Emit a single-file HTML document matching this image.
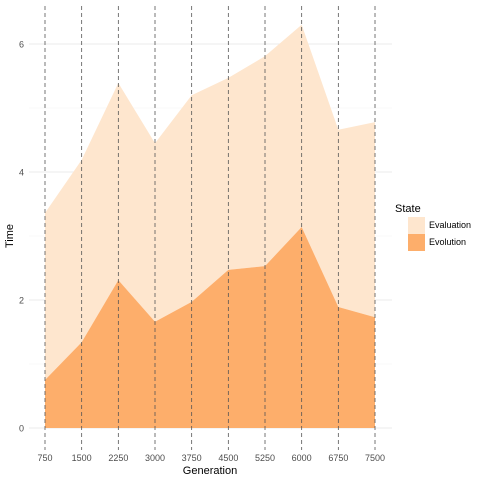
<!DOCTYPE html>
<html><head><meta charset="utf-8"><style>
html,body{margin:0;background:#fff;font-family:"Liberation Sans",sans-serif;overflow:hidden;width:480px;height:480px}
svg{display:block}
</style></head><body>
<svg id="chart" width="480" height="480" xmlns="http://www.w3.org/2000/svg"></svg>
<script>
const generations=[750,1500,2250,3000,3750,4500,5250,6000,6750,7500];
const evolution=[0.75,1.34,2.31,1.66,1.97,2.47,2.53,3.14,1.89,1.73];
const evaluation=[2.61,2.85,3.08,2.79,3.23,3.00,3.28,3.16,2.77,3.05];
const yTicks=[0,2,4,6];
const NS="http://www.w3.org/2000/svg";
const svgEl=document.getElementById('chart');
const xs=g=>45+(g-750)/750*36.667;
const ys=v=>428-v*64;
function add(tag,attrs){const e=document.createElementNS(NS,tag);for(const k in attrs)e.setAttribute(k,attrs[k]);svgEl.appendChild(e);return e;}
for(let v=1;v<=6;v+=2){const l=add('line',{x1:29,x2:392,y1:ys(v),y2:ys(v),stroke:'#f3f3f3','stroke-width':0.6});

}
yTicks.forEach(v=>{const l=add('line',{x1:29,x2:392,y1:ys(v),y2:ys(v),stroke:'#ebebeb','stroke-width':1.1});


const t=add('text',{x:24,y:ys(v)+3.5,'text-anchor':'end','font-size':9,fill:'#4d4d4d'});t.textContent=v;

});
const totals=evolution.map((v,i)=>v+evaluation[i]);
const topPts=generations.map((g,i)=>xs(g)+','+ys(totals[i])).join(' ');
const midPts=generations.map((g,i)=>xs(g)+','+ys(evolution[i]));
const evalArea=add('polygon',{points:topPts+' '+midPts.slice().reverse().join(' '),fill:'#fee6ce'});


const evoArea=add('polygon',{points:midPts.join(' ')+' '+xs(7500)+','+ys(0)+' '+xs(750)+','+ys(0),fill:'#fdae6b'});


generations.forEach(g=>{const l=add('line',{x1:xs(g),x2:xs(g),y1:6,y2:450,stroke:'#555','stroke-width':0.8,'stroke-dasharray':'4,3'});


const t=add('text',{x:xs(g),y:461,'text-anchor':'middle','font-size':9,fill:'#4d4d4d'});t.textContent=g;

});
</script>
<svg style="position:absolute;left:0;top:0" width="480" height="480">
<text x="210" y="474" text-anchor="middle" font-size="11" fill="#000">Generation</text>
<text transform="translate(13,236) rotate(-90)" text-anchor="middle" font-size="11" fill="#000">Time</text>
<text x="395" y="212" font-size="11" fill="#000">State</text>
<rect x="408" y="217" width="17" height="17" fill="#fee6ce"/>
<rect x="408" y="234" width="17" height="17" fill="#fdae6b"/>
<text x="429" y="228" font-size="9" fill="#000">Evaluation</text>
<text x="429" y="245" font-size="9" fill="#000">Evolution</text>
</svg>
</body></html>
